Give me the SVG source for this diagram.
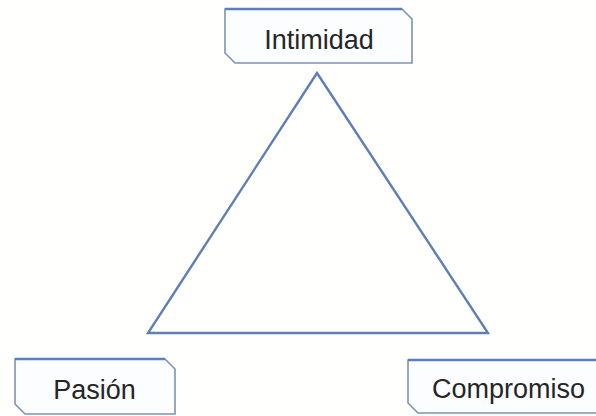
<svg xmlns="http://www.w3.org/2000/svg" width="596" height="416" viewBox="0 0 596 416">
<style>
.box{fill:#fbfdff;stroke:#7d93b2;stroke-width:1.6}
.top{fill:none;stroke:#5a80bf;stroke-width:2.6}
.lbl{font-family:"Liberation Sans",Arial,sans-serif;font-size:27px;fill:#262626;text-anchor:middle}
.edge{fill:none;stroke:#5d7fb3;stroke-width:2.4;stroke-linejoin:miter}
</style>
<rect width="596" height="416" fill="#fffffe"/>
<g id="connectors">
<polygon class="edge" points="317,73 488,333 148,333"/>
</g>
<g id="intimidad">
<path class="box" d="M225,9 H402 L412,19 V63 H235 L225,53 Z"/>
<path class="top" d="M225,9 H402"/>
<text class="lbl" x="319" y="49">Intimidad</text>
</g>
<g id="pasion">
<path class="box" d="M15,359 H165 L175,369 V414 H25 L15,404 Z"/>
<path class="top" d="M15,359 H165"/>
<text class="lbl" x="94.5" y="399">Pasión</text>
</g>
<g id="compromiso">
<path class="box" d="M408,360 H600 L610,370 V413 H418 L408,403 Z"/>
<path class="top" d="M408,360 H600"/>
<text class="lbl" x="508.5" y="398">Compromiso</text>
</g>
</svg>
